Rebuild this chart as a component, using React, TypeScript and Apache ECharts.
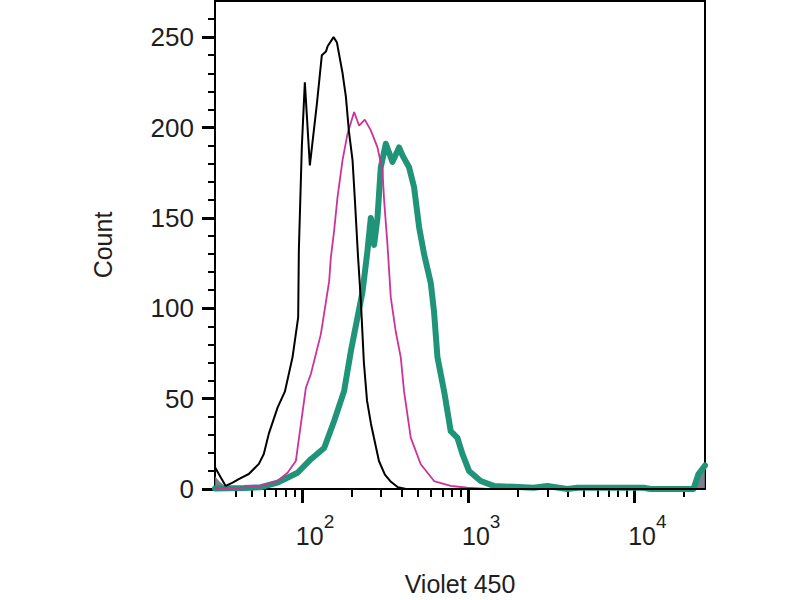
import React, { useEffect, useRef } from "react";
import * as echarts from "echarts";

// Fluorescence intensity (Violet 450) and event counts
const BLACK_X = [30, 32.5, 34.8, 38.3, 41.7, 47.9, 55.1, 59.0, 63.2, 71.4, 79.1, 87.9, 95.0, 95.9, 100, 104.2, 111.7, 123.1, 131.9, 139.6, 142.9, 155.2, 162.6, 175.8, 184.1, 191.9, 201.8, 208.5, 217.3, 226.5, 236.2, 246.6, 260.6, 291.1, 316, 343.6, 378.4, 423.6, 1000, 10000, 26700];
const BLACK_Y = [12, 6.3, 1.7, 3.5, 5.5, 8.3, 13.9, 19.4, 30.5, 45, 54, 73, 95, 132, 190, 225, 179, 213, 240, 242, 245, 250, 247, 230, 217, 198, 182, 160, 130, 104, 70, 49, 36, 15.5, 8, 4, 1, 0, 0, 0, 0];

const MAGENTA_X = [30, 41.1, 56.7, 71.4, 82.0, 92.0, 98.6, 105.7, 113.3, 130.1, 146.0, 149.4, 156.4, 163.9, 175.7, 188.3, 206.3, 221.1, 239.2, 260.0, 285.2, 305.7, 312.5, 327.6, 342.9, 367.5, 393.8, 412.2, 452.2, 519.6, 624.6, 787.0, 991.8, 1308, 5000, 26700];
const MAGENTA_Y = [0.5, 0.5, 1.7, 4.4, 9, 15.5, 35.8, 56, 63.6, 85.7, 115, 128, 143, 161.5, 182, 196.6, 208.6, 201, 204.4, 198.4, 189, 176, 160, 135, 106, 87, 72.8, 54, 28.4, 13.7, 4.4, 1.7, 0.7, 0, 0, 0];

const TEAL_X = [30, 44.8, 56.7, 71.4, 94.2, 113.3, 136.2, 156.4, 179.7, 197.0, 216.2, 231.7, 248.4, 260.0, 272.1, 285.2, 298.5, 320.0, 351.1, 384.7, 403.2, 441.8, 473.5, 507.5, 543.8, 596.8, 624.6, 654.6, 717.3, 787.0, 863.8, 925.3, 1014, 1192, 1427, 2484, 3002, 3960, 4549, 11390, 12550, 22760, 24400, 26700];
const TEAL_Y = [0.3, 0.5, 1, 3.5, 9, 16.5, 22.7, 37.6, 54.3, 76, 95, 109, 132, 150, 135, 150, 178, 191, 181, 189, 184.6, 178, 167, 145, 130, 114, 98, 73, 54.3, 32, 28.3, 19.4, 10, 4.4, 1.7, 0.7, 1.7, 0, 0.7, 0.7, 0, 0, 8.3, 13];

const GRAY_X = [30, 32, 34.5, 37, 22760, 24400, 26700];
const GRAY_Y = [7, 4, 1.5, 0, 0, 8, 13];

const X_MIN = 30;
const X_MAX = 26700;
const X_MAJOR = [100, 1000, 10000];
const X_MINOR = [40, 50, 60, 70, 80, 90, 200, 300, 400, 500, 600, 700, 800, 900, 2000, 3000, 4000, 5000, 6000, 7000, 8000, 9000, 20000];
const Y_MAJOR = [0, 50, 100, 150, 200, 250];
const Y_MINOR = [10, 20, 30, 40, 60, 70, 80, 90, 110, 120, 130, 140, 160, 170, 180, 190, 210, 220, 230, 240, 260];

const lg = (v: number) => Math.log10(v);
const pairs = (xs: number[], ys: number[]) => xs.map((x, i) => [lg(x), ys[i]]);

const FONT = "'Liberation Sans', Arial, sans-serif";
const TXT = "#1e1e1e";

export default function App() {
  const ref = useRef<HTMLDivElement>(null);
  useEffect(() => {
    document.body.style.margin = "0";
    const chart = echarts.init(ref.current!, undefined, { renderer: "svg" });
    const xMin = lg(X_MIN);
    const xMax = lg(X_MAX);
    chart.setOption({
      animation: false,
      backgroundColor: "#ffffff",
      textStyle: { fontFamily: FONT },
      grid: {
        left: 215, right: 95, top: 1, bottom: 111, show: true, borderColor: "#000", borderWidth: 2,
        backgroundColor: "transparent", containLabel: false, outerBoundsMode: "none",
      },
      xAxis: [
        {
          type: "value", min: xMin, max: xMax, position: "bottom",
          name: "Violet 450", nameLocation: "middle", nameGap: 84, nameMoveOverlap: false,
          nameTextStyle: { fontSize: 25, lineHeight: 22, color: TXT, fontFamily: FONT },
          axisLine: { show: true, lineStyle: { color: "#000", width: 2 } },
          axisTick: { show: true, customValues: X_MAJOR.map(lg), length: 14, lineStyle: { color: "#000", width: 3 } },
          axisLabel: {
            show: true, customValues: X_MAJOR.map(lg), margin: 23, align: "left", padding: [0, 0, 0, -6],
            formatter: (v: number) => `{b|10}{s|${Math.round(v)}}`,
            rich: {
              b: { fontSize: 25, lineHeight: 47, color: TXT, fontFamily: FONT },
              s: { fontSize: 19, lineHeight: 19, verticalAlign: "top", color: TXT, fontFamily: FONT },
            },
          },
          splitLine: { show: false },
        },
        {
          type: "value", min: xMin, max: xMax, position: "bottom",
          axisLine: { show: false },
          axisTick: { show: true, customValues: X_MINOR.map(lg), length: 8, lineStyle: { color: "#000", width: 2 } },
          axisLabel: { show: false },
          splitLine: { show: false },
        },
      ],
      yAxis: [
        {
          type: "value", min: 0, max: 270, position: "left",
          name: "Count", nameLocation: "middle", nameGap: 100, nameMoveOverlap: false,
          nameTextStyle: { fontSize: 25, color: TXT, fontFamily: FONT },
          axisLine: { show: true, lineStyle: { color: "#000", width: 2 } },
          axisTick: { show: true, customValues: Y_MAJOR, length: 13, lineStyle: { color: "#000", width: 3 } },
          axisLabel: { show: true, customValues: Y_MAJOR, margin: 21, fontSize: 26, color: TXT, fontFamily: FONT },
          splitLine: { show: false },
        },
        {
          type: "value", min: 0, max: 270, position: "left",
          axisLine: { show: false },
          axisTick: { show: true, customValues: Y_MINOR, length: 7, lineStyle: { color: "#000", width: 2 } },
          axisLabel: { show: false },
          splitLine: { show: false },
        },
      ],
      series: [
        {
          type: "line", name: "fill", data: pairs(GRAY_X, GRAY_Y), showSymbol: false, symbol: "none",
          lineStyle: { width: 0, color: "#6b7380" }, areaStyle: { color: "#6b7380", opacity: 0.9 }, z: 1,
        },
        {
          type: "line", name: "teal", data: pairs(TEAL_X, TEAL_Y), showSymbol: false, symbol: "none",
          lineStyle: { width: 6, color: "#1f9478", join: "round", cap: "round" }, z: 2,
        },
        {
          type: "line", name: "magenta", data: pairs(MAGENTA_X, MAGENTA_Y), showSymbol: false, symbol: "none",
          lineStyle: { width: 1.8, color: "#cc3399" }, z: 3,
        },
        {
          type: "line", name: "black", data: pairs(BLACK_X, BLACK_Y), showSymbol: false, symbol: "none",
          lineStyle: { width: 2, color: "#000" }, z: 4,
        },
      ],
    });
    return () => chart.dispose();
  }, []);
  return <div ref={ref} style={{ position: "fixed", left: 0, top: 0, width: 800, height: 600, background: "#fff" }} />;
}
